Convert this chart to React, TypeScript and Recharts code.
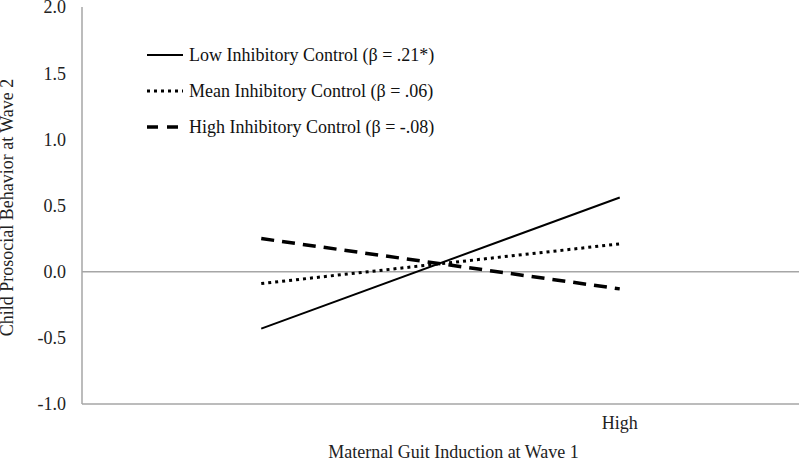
import React from "react";
import {
  LineChart,
  Line,
  XAxis,
  YAxis,
  ReferenceLine,
  Legend,
} from "recharts";

const categories = ["Low", "High"];
const tickLabels = ["", "High"];
const lowIC = [-0.43, 0.56];
const meanIC = [-0.09, 0.21];
const highIC = [0.25, -0.13];
const yTicks = [-1.0, -0.5, 0.0, 0.5, 1.0, 1.5, 2.0];

const seriesInfo = [
  { key: "low", name: "Low Inhibitory Control (β = .21*)", width: 2, dash: undefined as string | undefined },
  { key: "mean", name: "Mean Inhibitory Control (β = .06)", width: 3, dash: "3 4" },
  { key: "high", name: "High Inhibitory Control (β = -.08)", width: 3.5, dash: "13 8" },
];

const data = categories.map((c, i) => ({
  x: c,
  low: lowIC[i],
  mean: meanIC[i],
  high: highIC[i],
}));

const font = "'Liberation Serif', 'Times New Roman', serif";
const gray = "#a6a6a6";

const renderLegend = () => (
  <div style={{ fontFamily: font, fontSize: 18, color: "#111" }}>
    {seriesInfo.map((s) => (
      <div key={s.key} style={{ display: "flex", alignItems: "center", height: 36 }}>
        <svg width={42} height={10}>
          <line
            x1={0}
            y1={5}
            x2={36}
            y2={5}
            stroke="#000"
            strokeWidth={s.width}
            strokeDasharray={s.key === "mean" ? "3 4" : s.key === "high" ? "11 9" : undefined}
          />
        </svg>
        <span>{s.name}</span>
      </div>
    ))}
  </div>
);

const yTitle = (props: any) => {
  const vb = props.viewBox;
  const cy = vb.y + vb.height / 2 + 2;
  return (
    <text
      x={13}
      y={cy}
      transform={`rotate(-90, 13, ${cy})`}
      textAnchor="middle"
      fill="#222"
      fontSize={18}
      fontFamily={font}
    >
      Child Prosocial Behavior at Wave 2
    </text>
  );
};

export default function App() {
  return (
    <div style={{ position: "absolute", left: 0, top: 0, background: "#fff" }}>
      <LineChart
        width={800}
        height={460}
        data={data}
        margin={{ top: 7, right: 1, left: 0, bottom: 0 }}
      >
        <ReferenceLine y={0} stroke={gray} strokeWidth={1.5} />
        <XAxis
          dataKey="x"
          scale="band"
          height={56}
          axisLine={{ stroke: gray, strokeWidth: 1.5 }}
          tickLine={false}
          tickMargin={6}
          tickFormatter={(_v: string, i: number) => tickLabels[i]}
          tick={{ fill: "#222", fontSize: 18, fontFamily: font }}
          label={{
            value: "Maternal Guit Induction at Wave 1",
            position: "insideBottom",
            offset: 2,
            dx: 13,
            fill: "#222",
            fontSize: 18,
            fontFamily: font,
          }}
        />
        <XAxis
          xAxisId="top"
          dataKey="x"
          scale="band"
          orientation="top"
          height={0}
          tick={false}
          tickLine={false}
          axisLine={{ stroke: gray, strokeWidth: 1.5 }}
        />
        <YAxis
          width={82}
          domain={[-1, 2]}
          ticks={yTicks}
          interval={0}
          tickFormatter={(v: number) => v.toFixed(1)}
          axisLine={{ stroke: gray, strokeWidth: 1.5 }}
          tickLine={false}
          tickMargin={10}
          tick={{ fill: "#222", fontSize: 18, fontFamily: font }}
          label={yTitle}
        />
        <YAxis
          yAxisId="right"
          orientation="right"
          width={0}
          domain={[-1, 2]}
          tick={false}
          tickLine={false}
          axisLine={{ stroke: gray, strokeWidth: 1.5 }}
        />
        <Legend
          layout="vertical"
          verticalAlign="middle"
          align="center"
          content={renderLegend}
          wrapperStyle={{ left: 147, top: 37, width: 340 }}
        />
        {seriesInfo.map((s) => (
          <Line
            key={s.key}
            dataKey={s.key}
            name={s.name}
            type="linear"
            stroke="#000"
            strokeWidth={s.width}
            strokeDasharray={s.dash}
            dot={false}
            activeDot={false}
            isAnimationActive={false}
          />
        ))}
      </LineChart>
    </div>
  );
}
